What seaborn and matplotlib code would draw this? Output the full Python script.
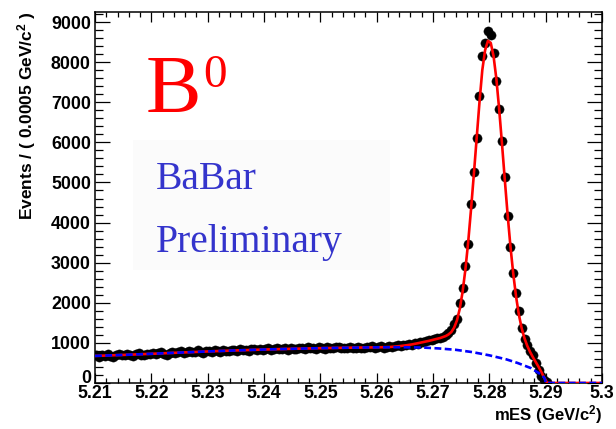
import numpy as np
import pandas as pd
import seaborn as sns
import matplotlib
matplotlib.use("Agg")
import matplotlib.pyplot as plt
from matplotlib.patches import Rectangle
from matplotlib.ticker import AutoMinorLocator

# Histogram binning of the beam-energy-substituted mass
MES_LO = 5.21
BIN_WIDTH = 0.0005

# Events per bin (bins beyond the last entry are empty)
events = [
    690, 655, 700, 672, 718, 684, 660, 705, 712, 688,
    695, 730, 702, 676, 722, 745, 708, 690, 733, 718,
    752, 724, 740, 768, 735, 710, 760, 778, 742, 765,
    790, 755, 772, 801, 768, 785, 812, 776, 760, 798,
    805, 782, 820, 795, 778, 830, 808, 790, 826, 815,
    800, 842, 818, 828, 805, 850, 836, 812, 858, 832,
    845, 870, 826, 852, 880, 838, 848, 866, 830, 872,
    858, 842, 884, 866, 850, 890, 862, 876, 845, 895,
    870, 858, 902, 876, 862, 890, 905, 868, 884, 872,
    898, 880, 866, 910, 885, 872, 902, 890, 915, 878,
    895, 920, 884, 905, 930, 898, 915, 940, 922, 948,
    935, 962, 958, 985, 975, 1010, 1025, 1040, 1062, 1080,
    1090, 1110, 1130, 1150, 1200, 1250, 1325, 1470, 1600, 2000,
    2375, 2925, 3470, 4460, 5267, 6100, 7150, 8150, 8470, 8780,
    8675, 8230, 7540, 6840, 6030, 5140, 4160, 3390, 2742, 2250,
    1800, 1380, 1100, 950, 800, 700, 490, 330, 170, 80,
    20,
]

# Background (ARGUS) component of the fit
bkg_mes = [5.210, 5.215, 5.220, 5.225, 5.230, 5.235, 5.240, 5.245, 5.250,
           5.255, 5.260, 5.264, 5.268, 5.271, 5.274, 5.277, 5.280, 5.283,
           5.285, 5.2874, 5.2893, 5.2897, 5.2899, 5.2900, 5.300]
bkg_events = [675, 700, 728, 758, 787, 812, 835, 853, 868,
              880, 889, 892, 885, 862, 828, 770, 690, 590,
              500, 370, 200, 140, 85, 0, 0]

# Total fit (signal + background)
total_mes = [5.210, 5.215, 5.220, 5.225, 5.230, 5.235, 5.240, 5.245, 5.250,
             5.255, 5.260, 5.26225, 5.26325, 5.26425, 5.26525, 5.26625,
             5.26725, 5.26825, 5.26925, 5.27025, 5.27125, 5.27225, 5.27275,
             5.27325, 5.27375, 5.27425, 5.27475, 5.27525, 5.27575, 5.27625,
             5.27675, 5.27725, 5.27775, 5.27825, 5.27875, 5.27925, 5.27975,
             5.28025, 5.28075, 5.28125, 5.28175, 5.28225, 5.28275, 5.28325,
             5.28375, 5.28425, 5.28475, 5.28525, 5.28575, 5.28625, 5.28675,
             5.28725, 5.28775, 5.28825, 5.28875, 5.28925, 5.28975, 5.29025,
             5.2906, 5.300]
total_events = [675, 700, 728, 758, 787, 812, 835, 853, 868,
                880, 889, 897, 908, 922, 940, 962,
                990, 1020, 1050, 1085, 1120, 1170, 1210,
                1270, 1380, 1560, 1850, 2270, 2830, 3520,
                4330, 5200, 6100, 7000, 7800, 8300, 8530,
                8480, 8150, 7580, 6820, 5960, 5060, 4190,
                3400, 2720, 2150, 1700, 1360, 1110, 920,
                770, 640, 520, 400, 270, 130, 10,
                0, 0]

x_ticks = [5.21, 5.22, 5.23, 5.24, 5.25, 5.26, 5.27, 5.28, 5.29, 5.30]
x_tick_labels = ["5.21", "5.22", "5.23", "5.24", "5.25", "5.26", "5.27",
                 "5.28", "5.29", "5.3"]
y_ticks = [0, 1000, 2000, 3000, 4000, 5000, 6000, 7000, 8000, 9000]
y_tick_labels = ["0", "1000", "2000", "3000", "4000", "5000", "6000",
                 "7000", "8000", "9000"]

sns.set_theme(style="ticks")
plt.rcParams["font.family"] = ["Liberation Sans", "DejaVu Sans"]
plt.rcParams["mathtext.default"] = "regular"

W, H = 616, 429
fig = plt.figure(figsize=(W / 100, H / 100), dpi=100)
fig.patch.set_facecolor("white")
ax = fig.add_axes([95 / W, 1 - 383 / H, 507 / W, 371 / H])
ax.set_facecolor("white")

counts = np.asarray(events, dtype=float)
centers = MES_LO + (np.arange(len(counts)) + 0.5) * BIN_WIDTH
data = pd.DataFrame({"mES": centers, "Events": counts})

# data points with statistical errors
ax.errorbar(data["mES"], data["Events"], yerr=np.sqrt(data["Events"]),
            xerr=BIN_WIDTH / 2, fmt="none", ecolor="black", elinewidth=1.5,
            zorder=2)
sns.scatterplot(data=data, x="mES", y="Events", color="black", s=44,
                edgecolor="black", linewidth=0.3, ax=ax, zorder=3,
                legend=False)

# fit curves
sns.lineplot(x=total_mes, y=total_events, color="#ff0000", linewidth=1.9,
             estimator=None, sort=False, ax=ax, zorder=4)
sns.lineplot(x=bkg_mes, y=bkg_events, color="#0000ff", linewidth=1.9,
             estimator=None, sort=False, ax=ax, zorder=5,
             linestyle=(0, (2.6, 1.3)))

ax.set_xlim(5.21, 5.30)
ax.set_ylim(0, 9250)
ax.set_xticks(x_ticks)
ax.set_xticklabels(x_tick_labels)
ax.set_yticks(y_ticks)
ax.set_yticklabels(y_tick_labels)
ax.xaxis.set_minor_locator(AutoMinorLocator(5))
ax.yaxis.set_minor_locator(AutoMinorLocator(5))

ax.tick_params(which="both", direction="in", top=True, right=True,
               color="black", width=0.9)
ax.tick_params(axis="x", which="major", length=7.5, pad=1.5)
ax.tick_params(axis="x", which="minor", length=3.8)
ax.tick_params(axis="y", which="major", length=11, pad=3)
ax.tick_params(axis="y", which="minor", length=5.5)
for lab in ax.get_xticklabels() + ax.get_yticklabels():
    lab.set_fontsize(12.8)
    lab.set_fontweight("bold")
    lab.set_color("black")
# the zero label rests on the corner
ax.get_yticklabels()[0].set_verticalalignment("baseline")
for sp in ax.spines.values():
    sp.set_color("black")
    sp.set_linewidth(1.1)

ax.set_xlabel("mES (GeV/c$^2$)", fontsize=12, fontweight="bold",
              loc="right", color="black")
ax.xaxis.set_label_coords(1.0, -0.055)
ax.set_ylabel("Events / ( 0.0005 GeV/c$^2$ )", fontsize=12.5,
              fontweight="bold", loc="top", color="black")
ax.yaxis.set_label_coords(-0.112, 1.0)

# faint panel behind the collaboration label
ax.add_patch(Rectangle((133 / W, 1 - 270 / H), (390 - 133) / W, 130 / H,
                       transform=fig.transFigure, facecolor="#fbfbfb",
                       edgecolor="none", zorder=0.5))

serif = ["Liberation Serif", "DejaVu Serif"]
fig.text(146 / W, 1 - 111.7 / H, "B", color="#ff0000", fontsize=60,
         family=serif, va="baseline", ha="left")
fig.text(203 / W, 1 - 86.7 / H, "0", color="#ff0000", fontsize=34,
         family=serif, va="baseline", ha="left")
fig.text(156 / W, 1 - 189.3 / H, "BaBar", color="#3434cc", fontsize=28.5,
         family=serif, va="baseline", ha="left")
fig.text(156 / W, 1 - 251.7 / H, "Preliminary", color="#3434cc",
         fontsize=28.5, family=serif, va="baseline", ha="left")

fig.savefig("out.png", dpi=100, facecolor="white")
